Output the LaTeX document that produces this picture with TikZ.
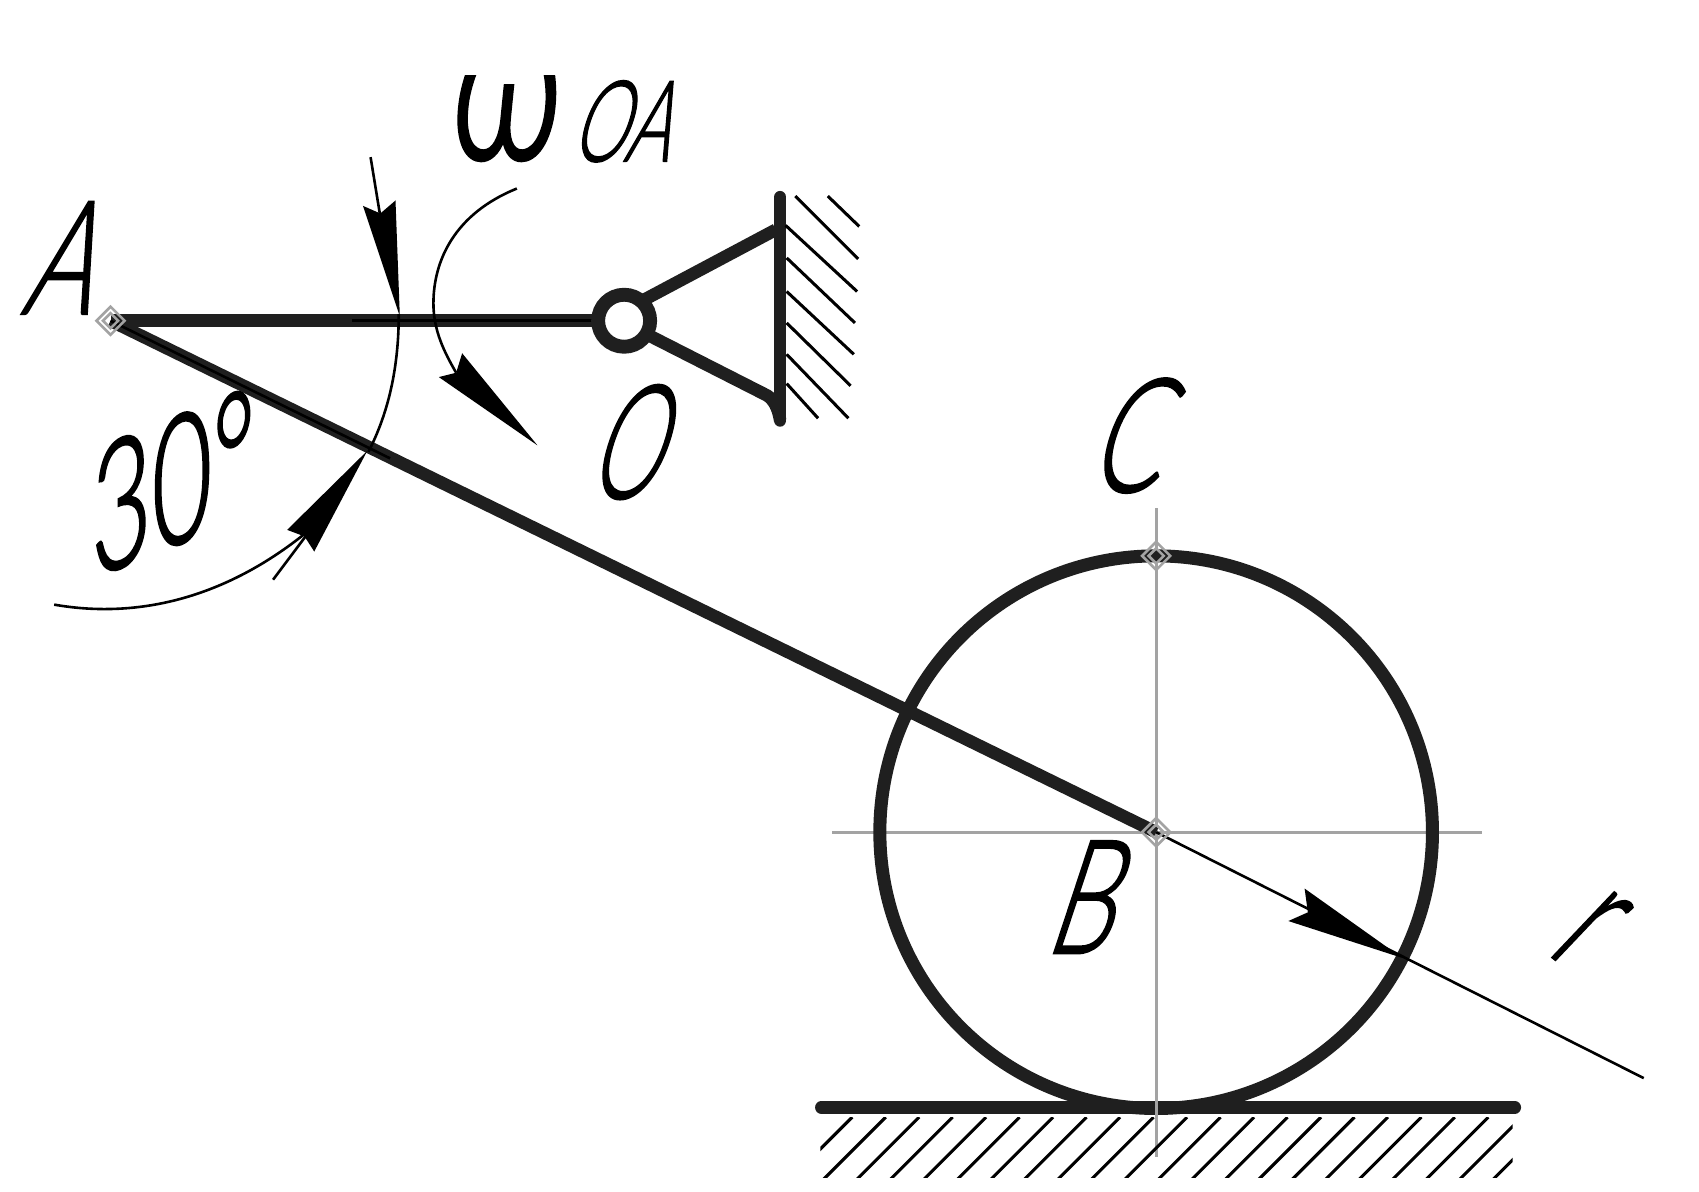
\documentclass[tikz,border=0pt]{standalone}
\usepackage{fontspec}
\newfontfamily\gostf[FakeBold=1.6]{Lato Light}
\newfontfamily\gostw[FakeBold=2.2]{Lato Light}
\definecolor{ink}{gray}{0.12}
\definecolor{cline}{gray}{0.64}
\tikzset{
  bar/.style={draw=ink,line width=5.8pt},
  rim/.style={draw=ink,line width=6pt},
  thinl/.style={draw=black,line width=1.2pt},
  hatchl/.style={draw=black,line width=1.4pt},
  centl/.style={draw=cline,line width=1.3pt},
  headf/.style={fill=black,draw=none},
  lab/.style={inner sep=0pt,xslant=.33,xscale=.66,transform shape,font=\gostf\fontsize{73}{80}\selectfont},
  diam/.style={draw=cline,line width=1.2pt,fill=none},
}
\begin{document}
\begin{tikzpicture}[x=.5pt,y=-.5pt]
\useasboundingbox (0,0) rectangle (1568,1099.2);
\coordinate (A) at (102,296);
\coordinate (O) at (576,296);
\coordinate (B) at (1067,768);
\coordinate (C) at (1067,513);
\coordinate (R) at (1517,995);
% centre lines
\draw[centl] (768,768) -- (1368,768);
\draw[centl] (1067,469) -- (1067,1068);
% wheel and ground
\draw[rim] (B) circle[radius=127.5pt];
\draw[bar,line cap=round] (758,1022) -- (1398,1022);
\draw[centl] (1067,1010) -- (1067,1068);
\begin{scope}
\clip (757,1031) rectangle (1396,1087);
\foreach \k in {0,...,21}{
  \draw[hatchl] ({786.5+30.9*\k},1031) -- ({786.5+30.9*\k-60},1091);
}
\end{scope}
% links
\draw[bar] (A) -- (O);
\draw[thinl] (325,296) -- (550,296);
\draw[bar] (A) -- (B);
\draw[thinl] (102,296) -- (360,423);
\draw[thinl] (B) -- (R);
% hinge and support
\draw[bar] (590,279) -- (716,212);
\draw[bar] (590,305) -- (708,365) .. controls (714,369) and (718,376) .. (720,388);
\draw[bar,line cap=round] (720,182) -- (720,388);
\draw[draw=ink,line width=6.4pt,fill=white] (O) circle[radius=12pt];
\foreach \a/\b/\c/\d in {764/181/793/209,734/181/792/239,725/208/791/269,726/238/789/298,726/269/788/327,726/298/785/356,726/327/783/386,726/354/755/386}{
  \draw[hatchl] (\a,\b) -- (\c,\d);
}
% angle arc and arrows
\draw[thinl] (368,290) .. controls (368,338) and (359,380) .. (340,417);
\draw[thinl] (342,145) -- (351,200);
\fill[headf] (369,292) -- (335,190) -- (351,197) -- (365,185) -- cycle;
\draw[thinl] (50,558) .. controls (130,572) and (210,550) .. (282,492);
\draw[thinl] (252,535) -- (282,495);
\fill[headf] (339,416) -- (265,489) -- (281,495) -- (290,509) -- cycle;
\draw[thinl] (477,174) .. controls (420,197) and (400,240) .. (400,280) .. controls (400,305) and (410,325) .. (421,344);
\fill[headf] (496,411) -- (405,348) -- (421,344) -- (426.5,326) -- cycle;
\fill[headf] (1294,884) -- (1204,820) -- (1207,842) -- (1189,850) -- cycle;
% point marks
\foreach \p in {A,B,C}{
  \draw[diam] (\p) ++(-13,0) -- ++(13,-13) -- ++(13,13) -- ++(-13,13) -- cycle;
  \draw[diam] (\p) ++(-7,0) -- ++(7,-7) -- ++(7,7) -- ++(-7,7) -- cycle;
}
% labels
\node[lab] (la) at (67,238) {A};
\node[lab,xscale=.85] (lo) at (590,408) {O};
\node[lab] (lc) at (1052,402) {C};
\node[lab] (lb) at (1010,828) {B};
\node[inner sep=0pt,xslant=.95,yslant=-.45,transform shape,font=\gostf\fontsize{60}{66}\selectfont] (lr) at (1468,858) {r};
\node[inner sep=0pt,yslant=.4,xscale=.58,transform shape,font=\gostf\fontsize{83}{90}\selectfont] (lang) at (160,445) {30°};
\node[lab,xscale=.92,font=\gostf\fontsize{52}{60}\selectfont] (loa) at (583,112) {OA};
\begin{scope}
\clip (400,70) rectangle (524,170);
\node[anchor=base,inner sep=0pt,xslant=.1,xscale=.7,transform shape,font=\gostw\fontsize{100}{110}\selectfont] (lw) at (463,146) {ω};
\end{scope}
\end{tikzpicture}
\end{document}
